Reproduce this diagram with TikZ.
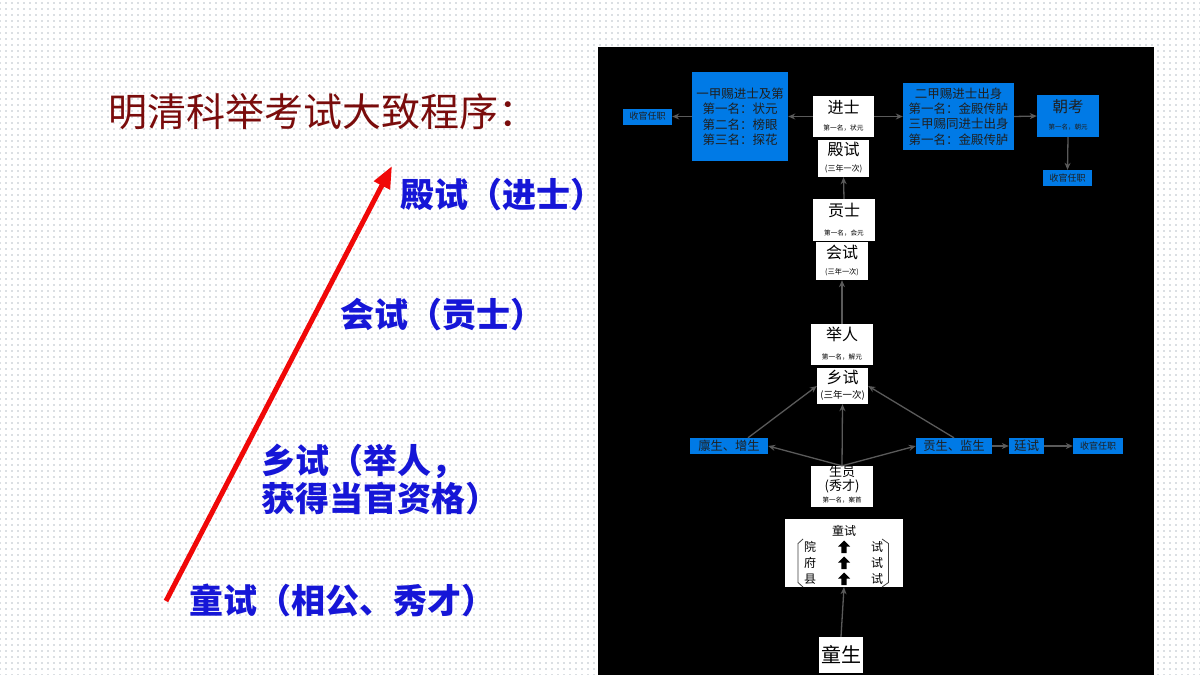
\documentclass[tikz,border=0pt]{standalone}
\usepackage{fontspec}
\setmainfont{Noto Sans CJK SC}
\usetikzlibrary{arrows.meta,patterns.meta,calc}
\definecolor{panelblue}{RGB}{0,122,230}
\definecolor{conngray}{RGB}{90,90,90}
\definecolor{titlered}{RGB}{122,12,12}
\definecolor{textblue}{RGB}{22,22,215}
\definecolor{arrowred}{RGB}{240,8,8}
\definecolor{dotc}{RGB}{100,120,135}
\newcommand\myfs[1]{\fontsize{#1}{#1}\selectfont}
\begin{document}
\begin{tikzpicture}[x=1pt,y=-1pt,
  bluebox/.style={fill=panelblue, draw=none, inner sep=0, text=black!88},
  whitebox/.style={fill=white, draw=none, inner sep=0, text=black},
  connarrow/.style={draw=conngray, line width=1.3pt, -{Stealth[length=7pt,width=6pt]}},
  lbl/.style={inner sep=0, text=black},
  lefttxt/.style={inner sep=0, anchor=west, text=textblue, font=\bfseries\myfs{34}},
]
\useasboundingbox (0,0) rectangle (1200,675);
% background
\fill[white] (0,0) rectangle (1200,675);
\fill[pattern={Dots[distance=6pt, radius=0.7pt]}, pattern color=dotc] (0,0) rectangle (1200,675);
% title
\node[inner sep=0, anchor=west, text=titlered, font=\myfs{39}] (title) at (108,112) {明清科举考试大致程序：};
% left texts
\node[lefttxt] (l1) at (400,195) {殿试（进士）};
\node[lefttxt] (l2) at (340,315) {会试（贡士）};
\node[lefttxt, align=left, font=\bfseries\fontsize{34}{38}\selectfont] (l3) at (261,479) {乡试（举人，\\获得当官资格）};
\node[lefttxt] (l4) at (189,600) {童试（相公、秀才）};
% red arrow
\coordinate (ra1) at (166,601);
\coordinate (ra2) at (392,166);
\draw[arrowred, line width=5pt, -{Triangle[length=22pt,width=17pt]}] (ra1) -- (ra2);
% black panel
\fill[black] (598,47) rectangle (1154,675);
% top row
\node[bluebox, minimum width=49pt, minimum height=16pt, font=\myfs{9}] (sg1) at (647.5,116.5) {收官任职};
\node[bluebox, minimum width=96pt, minimum height=89pt, align=center, font=\fontsize{12.5}{15.5}\selectfont] (yj) at (740,116.5) {一甲赐进士及第\\第一名：状元\\第二名：榜眼\\第三名：探花};
\node[whitebox, minimum width=61pt, minimum height=41pt] (js) at (843.5,116.5) {};
\node[lbl, font=\myfs{16}] (jsa) at (843.5,107) {进士};
\node[lbl, font=\myfs{6.7}] (jsb) at (843.5,128) {第一名，状元};
\node[bluebox, minimum width=111pt, minimum height=67pt, align=center, font=\fontsize{12.5}{15.4}\selectfont] (ej) at (958.5,116.5) {二甲赐进士出身\\第一名：金殿传胪\\三甲赐同进士出身\\第一名：金殿传胪};
\node[bluebox, minimum width=62pt, minimum height=42pt] (ck) at (1068,116) {};
\node[lbl, text=black!88, font=\myfs{15.5}] (cka) at (1068,107) {朝考};
\node[lbl, text=black!88, font=\myfs{6.5}] (ckb) at (1068,127) {第一名，朝元};
\node[bluebox, minimum width=49pt, minimum height=16pt, font=\myfs{9}] (sg2) at (1067.5,178) {收官任职};
% central column
\node[whitebox, minimum width=51pt, minimum height=37pt] (ds) at (843.5,158.5) {};
\node[lbl, font=\myfs{16}] (dsa) at (843.5,149) {殿试};
\node[lbl, font=\myfs{8}] (dsb) at (843.5,169) {(三年一次)};
\node[whitebox, minimum width=62pt, minimum height=42pt] (gs) at (844,220) {};
\node[lbl, font=\myfs{16}] (gsa) at (844,210) {贡士};
\node[lbl, font=\myfs{6.6}] (gsb) at (844,233) {第一名，会元};
\node[whitebox, minimum width=52pt, minimum height=38pt] (hs) at (842,261) {};
\node[lbl, font=\myfs{16}] (hsa) at (842,252) {会试};
\node[lbl, font=\myfs{7.2}] (hsb) at (842,272) {(三年一次)};
\node[whitebox, minimum width=62pt, minimum height=41pt] (jr) at (842,344.5) {};
\node[lbl, font=\myfs{16}] (jra) at (842,334) {举人};
\node[lbl, font=\myfs{6.7}] (jrb) at (842,357) {第一名，解元};
\node[whitebox, minimum width=51pt, minimum height=36pt] (xs) at (842.5,386) {};
\node[lbl, font=\myfs{16}] (xsa) at (842.5,377) {乡试};
\node[lbl, font=\myfs{9.5}] (xsb) at (842.5,395) {(三年一次)};
% middle row
\node[bluebox, minimum width=78pt, minimum height=16pt, font=\myfs{12.3}] (ls) at (729,446) {廪生、增生};
\node[bluebox, minimum width=76pt, minimum height=16pt, font=\myfs{12.3}] (gsj) at (954,446) {贡生、监生};
\node[bluebox, minimum width=35pt, minimum height=16pt, font=\myfs{12.5}] (ts) at (1026.5,446) {廷试};
\node[bluebox, minimum width=50pt, minimum height=16pt, font=\myfs{9}] (sg3) at (1098,446) {收官任职};
\node[whitebox, minimum width=62pt, minimum height=41pt] (sy) at (842,486.5) {};
\node[lbl, font=\myfs{13}] (sya) at (842,472) {生员};
\node[lbl, font=\myfs{13}] (syb) at (842,486) {(秀才)};
\node[lbl, font=\myfs{6.5}] (syc) at (842,500) {第一名，案首};
% tongshi box
\node[whitebox, minimum width=118pt, minimum height=68pt] (tsh) at (844,553) {};
\node[lbl, font=\myfs{12}] (tsha) at (844,531) {童试};
\node[lbl, font=\myfs{12}] (y1) at (810,547) {院};
\node[lbl, font=\myfs{12}] (y2) at (810,563) {府};
\node[lbl, font=\myfs{12}] (y3) at (810,579) {县};
\node[lbl, font=\myfs{12}] (s1) at (877,547) {试};
\node[lbl, font=\myfs{12}] (s2) at (877,563) {试};
\node[lbl, font=\myfs{12}] (s3) at (877,579) {试};
\foreach \yy in {547,563,579}{
  \fill[black, shift={(844,\yy)}] (0,-6.5) -- (6,-0.5) -- (2.6,-0.5) -- (2.6,6) -- (-2.6,6) -- (-2.6,-0.5) -- (-6,-0.5) -- cycle;
}
\draw[black!75, line width=0.8pt] (803,539) -- (798,543.5) -- (798,582.5) -- (803,587);
\draw[black!75, line width=0.8pt] (882,539) -- (888.5,543.5) -- (888.5,582.5) -- (882,587);
\node[whitebox, minimum width=44pt, minimum height=36pt, font=\myfs{20}] (tsg) at (841,655) {童生};
% connectors
\draw[connarrow] (js.west) -- (yj.east);
\draw[connarrow] (yj.west) -- (sg1.east);
\draw[connarrow] (js.east) -- (ej.west);
\draw[connarrow] (ej.east) -- (ck.west);
\draw[connarrow] (ck.south) -- (sg2.north);
\draw[connarrow] (gs.north) -- (ds.south);
\draw[connarrow] (jr.north) -- (hs.south);
\draw[connarrow] (sy.north) -- (xs.south);
\draw[connarrow] (sy.north) -- (ls.east);
\draw[connarrow] (sy.north) -- (gsj.west);
\draw[connarrow] ([xshift=19pt]ls.north) -- (xs.west);
\draw[connarrow] (gsj.north) -- (xs.east);
\draw[connarrow] (gsj.east) -- (ts.west);
\draw[connarrow] (ts.east) -- (sg3.west);
\draw[connarrow] (tsg.north) -- (tsh.south);
\end{tikzpicture}
\end{document}
